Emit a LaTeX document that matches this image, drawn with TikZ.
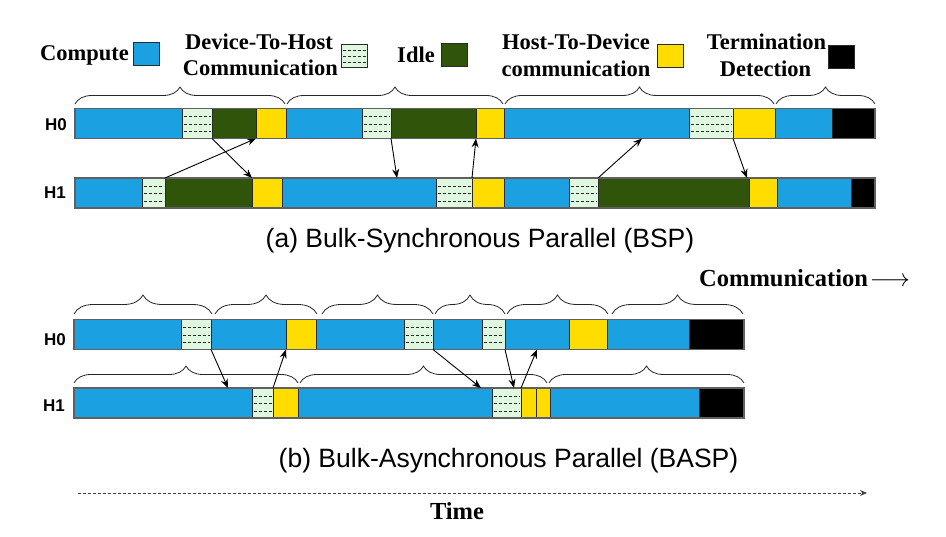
\documentclass[tikz,border=0pt]{standalone}
\usepackage{fontspec}
\setmainfont{Liberation Serif}
\newfontfamily\capfont{Liberation Sans}
\usetikzlibrary{arrows.meta,decorations.pathreplacing,calc}
\definecolor{cblue}{HTML}{1BA1E2}
\definecolor{cidle}{HTML}{31540B}
\definecolor{cyel}{HTML}{FFDD00}
\definecolor{cdtoh}{HTML}{E0F8E0}
\definecolor{cedge}{HTML}{2A2A2A}
\definecolor{cbar}{HTML}{606060}
\tikzset{
  seg/.style={draw=cedge, line width=0.9pt, inner sep=0pt, outer sep=0pt, minimum height=30pt},
  dashfill/.style={fill=cdtoh, path picture={
      \foreach \f in {0.27,0.52,0.77}{
        \draw[line width=0.8pt, dash pattern=on 3pt off 2pt]
          ($(path picture bounding box.north west)!\f!(path picture bounding box.south west)+(2pt,0)$) --
          ($(path picture bounding box.north east)!\f!(path picture bounding box.south east)+(-1pt,0)$);}}},
  comp/.style={seg, fill=cblue},
  idle/.style={seg, fill=cidle},
  htod/.style={seg, fill=cyel},
  term/.style={seg, fill=black},
  dtoh/.style={seg, dashfill},
  barline/.style={draw=cbar, line width=1.3pt},
  brc/.style={decorate, decoration={brace, amplitude=#1}, draw=black!85, line width=0.8pt},
  msg/.style={-{Stealth[length=9pt,width=7pt]}, line width=0.9pt, black},
  lgd/.style={font=\bfseries\fontsize{22.5}{26}\selectfont, inner sep=0pt, anchor=base},
  swatch/.style={draw=cedge, line width=1pt, minimum width=26pt, minimum height=23pt, inner sep=0pt},
  hlab/.style={font=\capfont\bfseries\fontsize{17}{19}\selectfont, anchor=east, inner sep=0pt},
  captxt/.style={font=\capfont\fontsize{26.5}{30}\selectfont, inner sep=0pt},
  bigbold/.style={font=\bfseries\fontsize{24.5}{28}\selectfont, inner sep=0pt},
  timearrow/.style={draw=black!75, line width=1pt, dash pattern=on 3pt off 2pt, -{Stealth[length=7pt,width=6pt]}},
}
\newcommand\mkseg[5]{\node[#5, minimum width={(#3)-(#2)}] (#1) at ({((#2)+(#3))/2},#4) {};}
\begin{document}
\begin{tikzpicture}[x=1pt,y=-1pt]
\useasboundingbox (0,0) rectangle (946,537);

% ---------- legend ----------
\node[lgd] (lcomp) at (84.5,61) {Compute};
\node[swatch, fill=cblue] (scomp) at (146,54.5) {};
\node[lgd] (ldtoha) at (259,50) {Device-To-Host};
\node[lgd] (ldtohb) at (260.5,76) {Communication};
\node[swatch, dashfill] (sdtoh) at (354,56) {};
\node[lgd] (lidle) at (416,63) {Idle};
\node[swatch, fill=cidle] (sidle) at (454,55) {};
\node[lgd] (lhtoda) at (576,50) {Host-To-Device};
\node[lgd] (lhtodb) at (576,77) {communication};
\node[swatch, fill=cyel] (shtod) at (670,56) {};
\node[lgd] (lterma) at (766.5,50) {Termination};
\node[lgd] (ltermb) at (765.5,77) {Detection};
\node[swatch, fill=black] (sterm) at (841,57) {};

% ---------- (a) BSP ----------
\node[hlab] (lh0a) at (67,125) {H0};
\node[hlab] (lh1a) at (66,193) {H1};

\mkseg{h0c1}{75}{182}{123.5}{comp}
\mkseg{h0d1}{182}{212}{123.5}{dtoh}
\mkseg{h0i1}{212}{256}{123.5}{idle}
\mkseg{h0y1}{256}{286}{123.5}{htod}
\mkseg{h0c2}{286}{362}{123.5}{comp}
\mkseg{h0d2}{362}{391}{123.5}{dtoh}
\mkseg{h0i2}{391}{476}{123.5}{idle}
\mkseg{h0y2}{476}{504}{123.5}{htod}
\mkseg{h0c3}{504}{689}{123.5}{comp}
\mkseg{h0d3}{689}{733}{123.5}{dtoh}
\mkseg{h0y3}{733}{775}{123.5}{htod}
\mkseg{h0c4}{775}{832}{123.5}{comp}
\mkseg{h0t}{832}{875}{123.5}{term}
\draw[barline] (h0c1.north west) rectangle (h0t.south east);

\mkseg{h1c1}{75}{142}{193}{comp}
\mkseg{h1d1}{142}{165}{193}{dtoh}
\mkseg{h1i1}{165}{252}{193}{idle}
\mkseg{h1y1}{252}{282}{193}{htod}
\mkseg{h1c2}{282}{436}{193}{comp}
\mkseg{h1d2}{436}{472}{193}{dtoh}
\mkseg{h1y2}{472}{504}{193}{htod}
\mkseg{h1c3}{504}{569}{193}{comp}
\mkseg{h1d3}{569}{598}{193}{dtoh}
\mkseg{h1i3}{598}{749}{193}{idle}
\mkseg{h1y3}{749}{777}{193}{htod}
\mkseg{h1c4}{777}{851}{193}{comp}
\mkseg{h1t}{851}{875}{193}{term}
\draw[barline] (h1c1.north west) rectangle (h1t.south east);

\draw[brc=17pt] (75,104) -- (285,104);
\draw[brc=17pt] (287,104) -- (503,104);
\draw[brc=17pt] (505,104) -- (774,104);
\draw[brc=17pt] (776,104) -- (875,104);

\draw[msg] (h1d1.north east) -- (h0y1.south west);
\draw[msg] (h0d1.south east) -- (h1y1.north west);
\draw[msg] (h0d2.south east) -- ($(h1c2.north west)+(115pt,0)$);
\draw[msg] (h1d2.north east) -- (h0y2.south west);
\draw[msg] (h1d3.north east) -- ($(h0c3.south west)+(138pt,0)$);
\draw[msg] (h0d3.south east) -- ($(h1y3.north west)+(-2pt,0)$);

\node[captxt] (capa) at (480,240.5) {(a) Bulk-Synchronous Parallel (BSP)};

\node[bigbold, anchor=west] (lcomm) at (699,278) {Communication\kern2pt$\longrightarrow$};

% ---------- (b) BASP ----------
\node[hlab] (lh0b) at (66,340) {H0};
\node[hlab] (lh1b) at (65,406) {H1};

\mkseg{g0c1}{74}{181}{334.5}{comp}
\mkseg{g0d1}{181}{211}{334.5}{dtoh}
\mkseg{g0c2}{211}{286}{334.5}{comp}
\mkseg{g0y1}{286}{316}{334.5}{htod}
\mkseg{g0c3}{316}{404}{334.5}{comp}
\mkseg{g0d2}{404}{433}{334.5}{dtoh}
\mkseg{g0c4}{433}{482}{334.5}{comp}
\mkseg{g0d3}{482}{505}{334.5}{dtoh}
\mkseg{g0c5}{505}{569}{334.5}{comp}
\mkseg{g0y2}{569}{607}{334.5}{htod}
\mkseg{g0c6}{607}{689}{334.5}{comp}
\mkseg{g0t}{689}{744}{334.5}{term}
\draw[barline] (g0c1.north west) rectangle (g0t.south east);

\mkseg{g1c1}{74}{252}{403}{comp}
\mkseg{g1d1}{252}{273}{403}{dtoh}
\mkseg{g1y1}{273}{298}{403}{htod}
\mkseg{g1c2}{298}{492}{403}{comp}
\mkseg{g1d2}{492}{521}{403}{dtoh}
\mkseg{g1y2}{521}{536}{403}{htod}
\mkseg{g1y3}{536}{550}{403}{htod}
\mkseg{g1c3}{550}{699}{403}{comp}
\mkseg{g1t}{699}{744}{403}{term}
\draw[barline] (g1c1.north west) rectangle (g1t.south east);

\draw[brc=19pt] (74,314) -- (212,314);
\draw[brc=19pt] (215,314) -- (317,314);
\draw[brc=19pt] (322,314) -- (433,314);
\draw[brc=19pt] (435,314) -- (505,314);
\draw[brc=19pt] (507,314) -- (608,314);
\draw[brc=19pt] (612,314) -- (743,314);

\draw[brc=17pt] (74,383) -- (298,383);
\draw[brc=17pt] (300,383) -- (547,383);
\draw[brc=17pt] (549,383) -- (744,383);

\draw[msg] (g0d1.south east) -- ($(g1c1.north west)+(154pt,0)$);
\draw[msg] (g1d1.north east) -- (g0y1.south west);
\draw[msg] (g0d2.south east) -- ($(g1c2.north west)+(183pt,0)$);
\draw[msg] (g0d3.south east) -- ($(g1d2.north west)+(22pt,0)$);
\draw[msg] (g1d2.north east) -- ($(g0c5.south west)+(32pt,0)$);

\node[captxt] (capb) at (508.5,461) {(b) Bulk-Asynchronous Parallel (BASP)};

% ---------- time axis ----------
\coordinate (tstart) at (78,493);
\coordinate (tend) at (867,493);
\draw[timearrow] (tstart) -- (tend);
\node[bigbold] (ltime) at (457,511) {Time};
\end{tikzpicture}
\end{document}
